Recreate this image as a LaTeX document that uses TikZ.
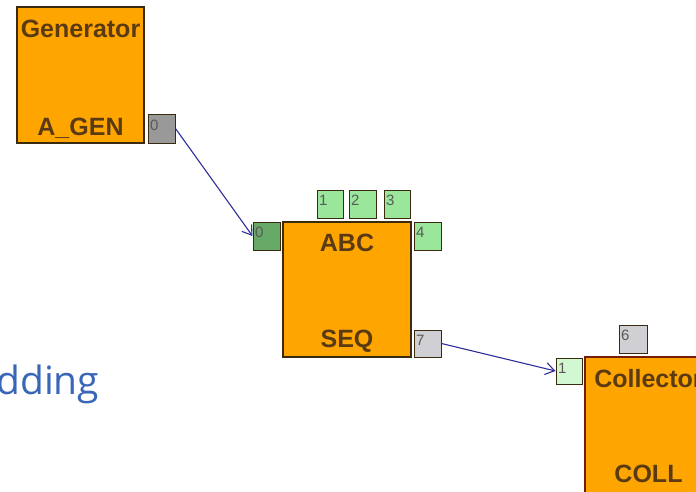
\documentclass[tikz,border=0pt]{standalone}
\usepackage{fontspec}
\setmainfont{Liberation Sans}
\newfontfamily\dingfont{Open Sans}
\usetikzlibrary{arrows.meta}
\definecolor{boxorange}{HTML}{FFA500}
\definecolor{boxline}{HTML}{3A2A10}
\definecolor{labelbrown}{HTML}{5A3A12}
\definecolor{portgray}{HTML}{999999}
\definecolor{portlgray}{HTML}{D0D0D4}
\definecolor{portdgreen}{HTML}{66A866}
\definecolor{portgreen}{HTML}{9AE69A}
\definecolor{portpale}{HTML}{D2F8D2}
\definecolor{wire}{HTML}{2E2E9A}
\definecolor{dingblue}{HTML}{3A66B8}
\tikzset{
  block/.style={draw=boxline, line width=1.3pt, fill=boxorange, inner sep=0pt},
  blabel/.style={text=labelbrown, font=\bfseries\fontsize{25}{25}\selectfont, inner sep=0pt},
  port/.style={draw=boxline, line width=1pt, inner sep=0pt},
  pnum/.style={text=black!65, font=\fontsize{15}{15}\selectfont, anchor=north west, inner sep=0pt},
  wirearrow/.style={draw=wire, line width=1.1pt, -{Straight Barb[length=9pt,width=12pt,line width=1.1pt]}}
}
\begin{document}
\begin{tikzpicture}[x=1pt,y=-1pt]
\useasboundingbox (0,0) rectangle (696,491);
\clip (0,0) rectangle (696,491);
% Generator
\node[block, minimum width=127pt, minimum height=136pt] (gen) at (80.5,75) {};
\node[blabel] (genT) at (80.5,29) {Generator};
\node[blabel] (genB) at (80.5,128) {A\_GEN};
\node[port, fill=portgray, minimum width=27pt, minimum height=29pt] (g0) at (161.5,128.5) {};
\node[pnum] (g0t) at (150,120) {0};
% ABC
\node[block, minimum width=128pt, minimum height=135pt] (abc) at (347,289.5) {};
\node[blabel] (abcT) at (347,243) {ABC};
\node[blabel] (abcB) at (347,341) {SEQ};
\node[port, fill=portdgreen, minimum width=27pt, minimum height=28pt] (a0) at (266.5,236) {};
\node[pnum] (a0t) at (255,227) {0};
\node[port, fill=portgreen, minimum width=26pt, minimum height=28pt] (a1) at (330,204) {};
\node[pnum] (a1t) at (319,195) {1};
\node[port, fill=portgreen, minimum width=27pt, minimum height=28pt] (a2) at (362.5,204) {};
\node[pnum] (a2t) at (351,195) {2};
\node[port, fill=portgreen, minimum width=26pt, minimum height=28pt] (a3) at (397,204) {};
\node[pnum] (a3t) at (386,195) {3};
\node[port, fill=portgreen, minimum width=27pt, minimum height=28pt] (a4) at (427.5,236) {};
\node[pnum] (a4t) at (416,227) {4};
\node[port, fill=portlgray, minimum width=27pt, minimum height=27pt] (a7) at (427.5,343.5) {};
\node[pnum] (a7t) at (416,335) {7};
% Collector
\node[block, draw=boxline!70!red, minimum width=127pt, minimum height=136pt] (col) at (648.5,425) {};
\node[blabel] (colT) at (648.5,379) {Collector};
\node[blabel] (colB) at (648.5,474) {COLL};
\node[port, fill=portpale, minimum width=26pt, minimum height=26pt] (c1) at (569,371) {};
\node[pnum] (c1t) at (558,363) {1};
\node[port, fill=portlgray, minimum width=28pt, minimum height=28pt] (c6) at (633,339) {};
\node[pnum] (c6t) at (621,330) {6};
% partial text
\node[anchor=base west, inner sep=0pt, text=dingblue, font=\dingfont\fontsize{39}{39}\selectfont] (ding) at (-4,394) {dding};
% wires
\draw[wirearrow] (g0.east) -- (a0.west);
\draw[wirearrow] (a7.east) -- (c1.west);
\end{tikzpicture}
\end{document}
